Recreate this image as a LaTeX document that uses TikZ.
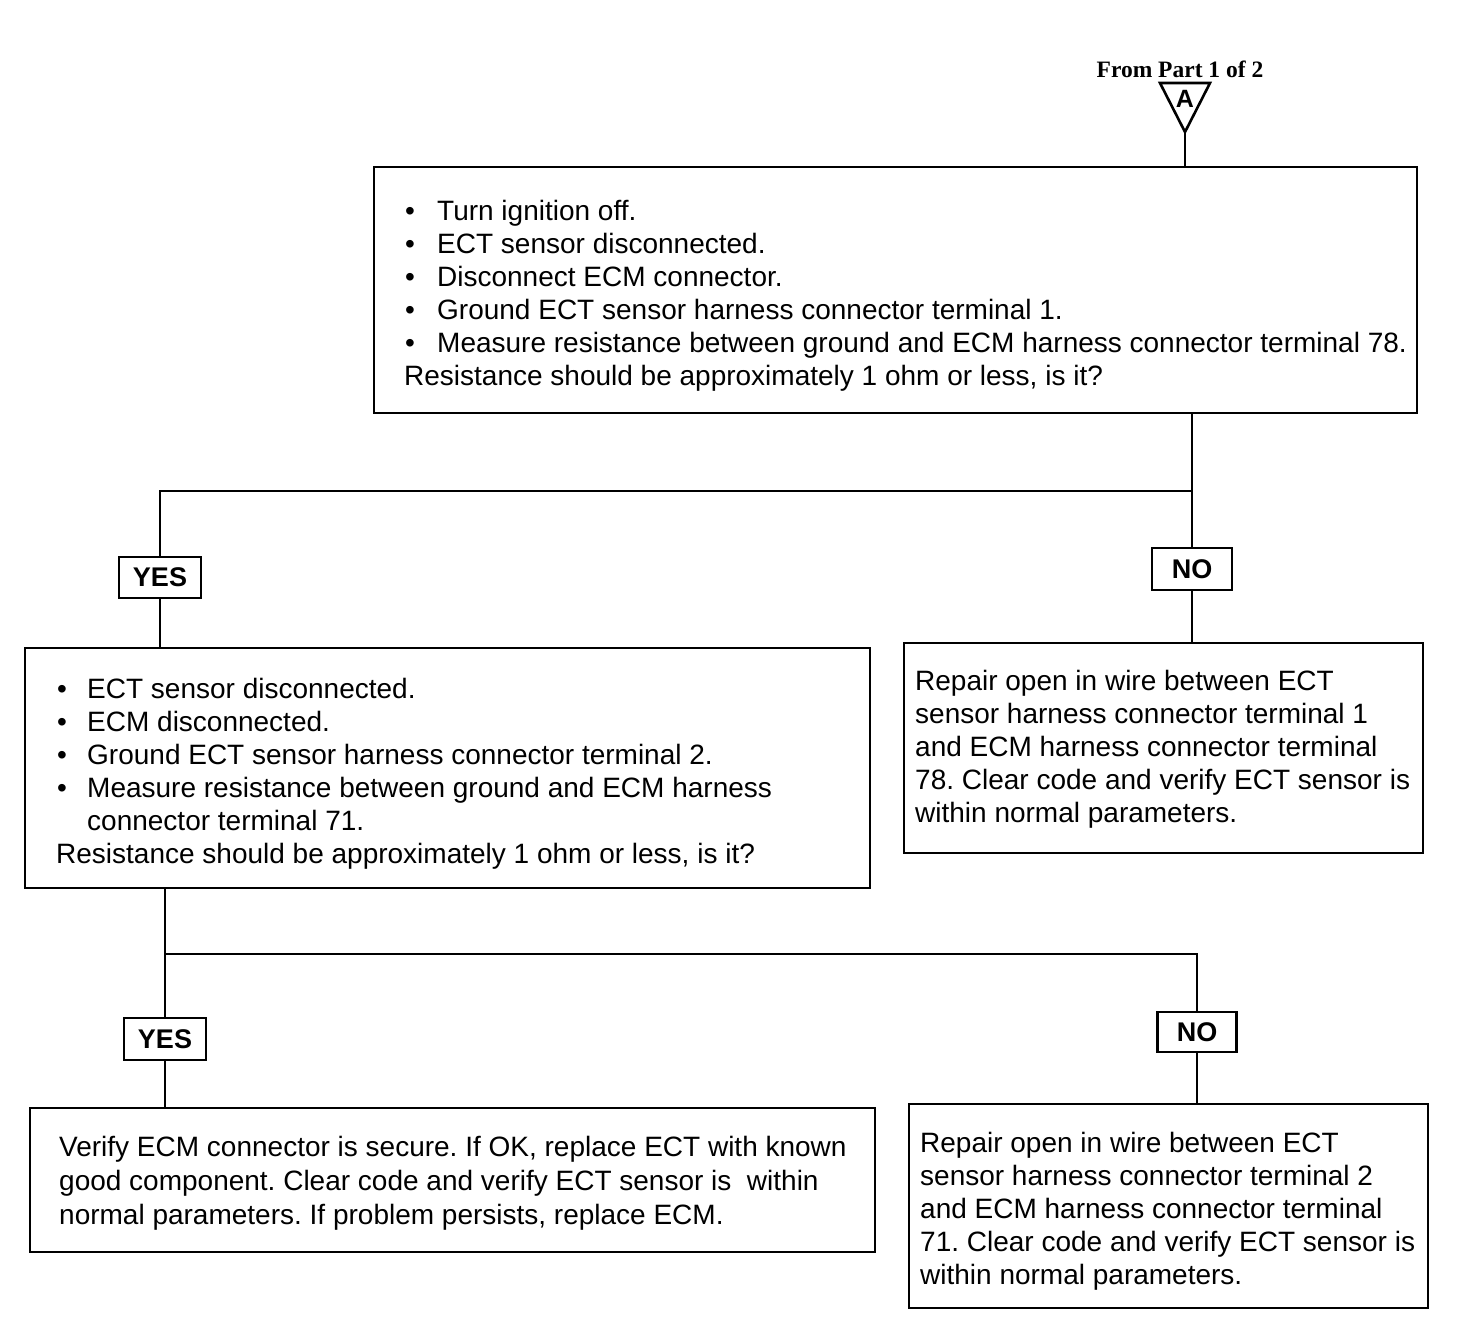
\documentclass[tikz,border=0pt]{standalone}
\usepackage{fontspec}
\setmainfont{Liberation Sans}
\newfontfamily\serifbd{Liberation Serif}
\newcommand\bulA{\makebox[33pt][l]{\hspace{1pt}•}}
\newcommand\bulB{\makebox[31pt][l]{\hspace{1pt}•}}
\newcommand\firstln{\rule{0pt}{24pt}}
\frenchspacing
\begin{document}
\begin{tikzpicture}[x=1pt,y=-1pt,
  box/.style={draw, line width=2.8pt, inner sep=0pt},
  lbl/.style={draw, line width=2.8pt, inner sep=0pt, font=\fontsize{27}{30}\selectfont\bfseries},
  txt/.style={anchor=north west, align=left, inner sep=0pt, font=\fontsize{28}{33}\selectfont},
  conn/.style={line width=2.8pt}]
\useasboundingbox (0,0) rectangle (1472,1342);
% entry marker
\node[font=\serifbd\fontsize{23.5}{26}\selectfont\bfseries] (from) at (1180,69) {From Part 1 of 2};
\coordinate (apex) at (1185,132);
\draw[line width=2.6pt, line join=miter] (1160,83) -- (1210,83) -- (apex) -- cycle;
\node[font=\fontsize{25}{26}\selectfont\bfseries] (A) at (1185,99) {A};
% boxes
\node[box, minimum width=1043pt, minimum height=246pt] (b1) at (895.5,290) {};
\node[box, minimum width=845pt, minimum height=240pt] (b2) at (447.5,768) {};
\node[box, minimum width=519pt, minimum height=210pt] (b3) at (1163.5,748) {};
\node[box, minimum width=845pt, minimum height=144pt] (b4) at (452.5,1180) {};
\node[box, minimum width=519pt, minimum height=204pt] (b5) at (1168.5,1206) {};
% texts
\node[txt] (t1) at (404,196) {\firstln\bulA Turn ignition off.\\
\bulA ECT sensor disconnected.\\
\bulA Disconnect ECM connector.\\
\bulA Ground ECT sensor harness connector terminal 1.\\
\bulA Measure resistance between ground and ECM harness connector terminal 78.\\
Resistance should be approximately 1 ohm or less, is it?};
\node[txt] (t2) at (56,674) {\firstln\bulB ECT sensor disconnected.\\
\bulB ECM disconnected.\\
\bulB Ground ECT sensor harness connector terminal 2.\\
\bulB Measure resistance between ground and ECM harness\\
\makebox[31pt]{}connector terminal 71.\\
Resistance should be approximately 1 ohm or less, is it?};
\node[txt] (t3) at (915,666) {\firstln Repair open in wire between ECT\\
sensor harness connector terminal 1\\
and ECM harness connector terminal\\
78. Clear code and verify ECT sensor is\\
within normal parameters.};
\node[txt, font=\fontsize{28}{34}\selectfont] (t4) at (59,1132) {\firstln Verify ECM connector is secure. If OK, replace ECT with known\\
good component. Clear code and verify ECT sensor is\ \ within\\
normal parameters. If problem persists, replace ECM.};
\node[txt] (t5) at (920,1128) {\firstln Repair open in wire between ECT\\
sensor harness connector terminal 2\\
and ECM harness connector terminal\\
71. Clear code and verify ECT sensor is\\
within normal parameters.};
% labels
\node[lbl, minimum width=82pt, minimum height=41pt] (yes1) at (160,577.5) {YES};
\node[lbl, minimum width=80pt, minimum height=42pt] (no1) at (1192,569) {NO};
\node[lbl, minimum width=82pt, minimum height=42pt] (yes2) at (165,1039) {YES};
\node[lbl, minimum width=79pt, minimum height=40pt] (no2) at (1197,1032) {NO};
% connectors
\coordinate (j1) at (1192,491);
\coordinate (j2) at (165,954);
\draw[conn] (apex) -- (apex |- b1.north);
\draw[conn] (j1 |- b1.south) -- (j1);
\draw[conn] (j1) -| (yes1.north);
\draw[conn] (j1) -- (no1.north);
\draw[conn] (yes1.south) -- (yes1.south |- b2.north);
\draw[conn] (no1.south) -- (no1.south |- b3.north);
\draw[conn] (j2 |- b2.south) -- (j2);
\draw[conn] (j2) -- (yes2.north);
\draw[conn] (j2) -| (no2.north);
\draw[conn] (yes2.south) -- (yes2.south |- b4.north);
\draw[conn] (no2.south) -- (no2.south |- b5.north);
\end{tikzpicture}
\end{document}
